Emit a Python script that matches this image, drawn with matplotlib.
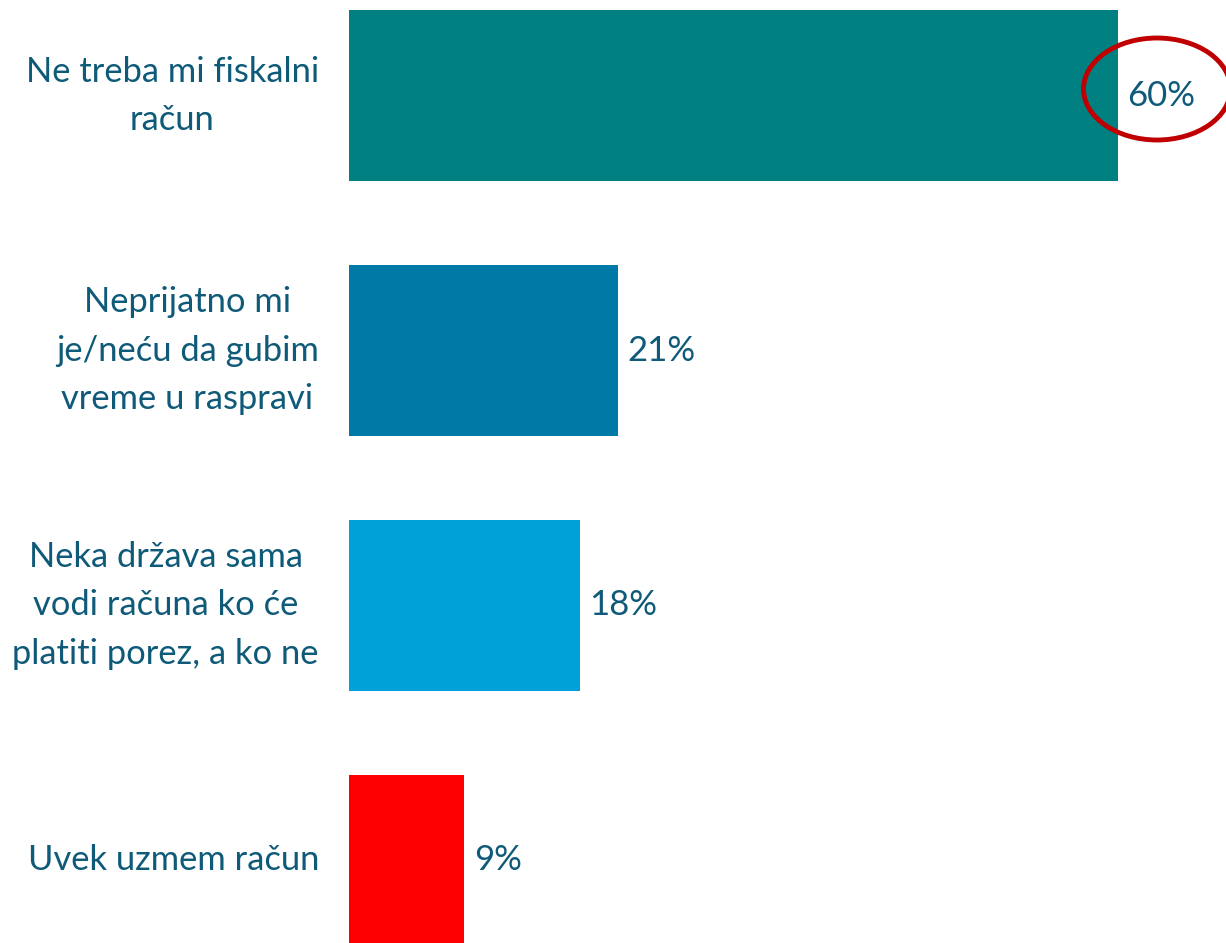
import matplotlib.pyplot as plt
from matplotlib.patches import Ellipse

plt.rcParams['font.family'] = ['Lato', 'DejaVu Sans']

categories = ['Ne treba mi fiskalni\nračun',
              'Neprijatno mi\nje/neću da gubim\nvreme u raspravi',
              'Neka država sama\nvodi računa ko će\nplatiti porez, a ko ne',
              'Uvek uzmem račun']
values = [60, 21, 18, 9]
colors = ['#008080', '#0079A6', '#00A0D8', '#FF0000']
text_color = '#0E5A78'

fig = plt.figure(figsize=(12.26, 9.43), dpi=100)
ax = fig.add_axes([349 / 1226, 0, 1 - 349 / 1226, 1])

pos = list(range(len(categories)))
ax.barh(pos, values, height=0.672, color=colors)
ax.set_ylim(3.325, -0.376)
ax.set_xlim(0, 877 / 769 * 60)

for p, v in zip(pos, values):
    ax.text(v + 0.75, p, f'{v}%', va='center', ha='left',
            fontsize=25, color=text_color)

for p, c in zip(pos, categories):
    ax.text(-2.35, p, c, va='center', ha='right', multialignment='center',
            fontsize=24.8, color=text_color, linespacing=1.63)

ax.set_xticks([])
ax.set_yticks([])
for s in ax.spines.values():
    s.set_visible(False)

# red circle around the top value
ell = Ellipse((1157 / 1226, 1 - 89 / 943), 147 / 1226, 102 / 943,
              transform=fig.transFigure, fill=False, edgecolor='#C00000',
              linewidth=3.5, clip_on=False)
fig.patches.append(ell)

fig.savefig('out.png', dpi=100)
